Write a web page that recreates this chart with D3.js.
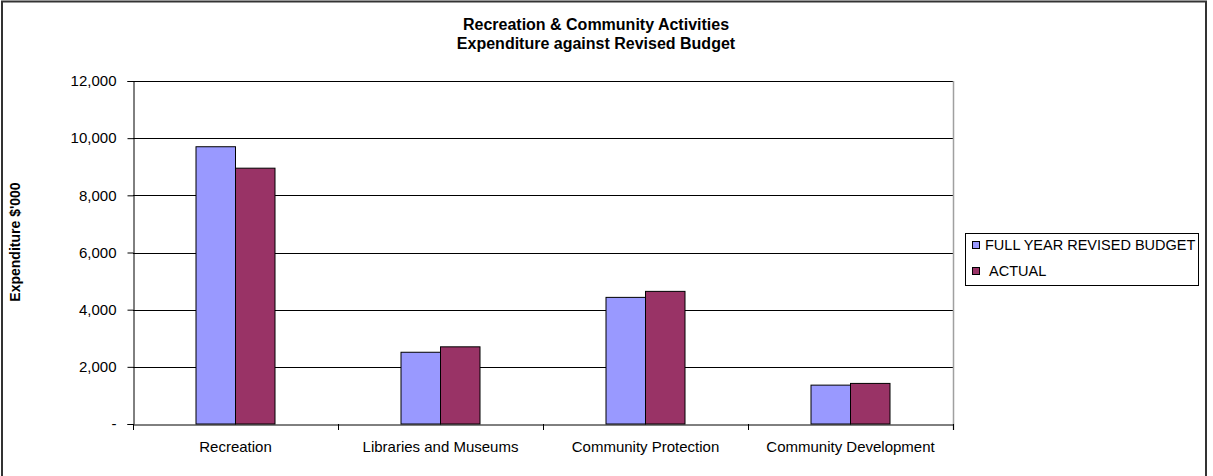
<!DOCTYPE html>
<html>
<head>
<meta charset="utf-8">
<script src="https://cdn.jsdelivr.net/npm/d3@7"></script>
<style>
  html, body { margin: 0; padding: 0; background: #fff; }
  svg { display: block; font-family: "Liberation Sans", Arial, sans-serif; }
</style>
</head>
<body>
<svg id="chart" width="1213" height="476"></svg>
<script>
const categories = ["Recreation", "Libraries and Museums", "Community Protection", "Community Development"];
const seriesNames = ["FULL YEAR REVISED BUDGET", "ACTUAL"];
const budgetValues = [9700, 2510, 4430, 1360];
const actualValues = [8950, 2700, 4640, 1420];
const yTicks = [0, 2000, 4000, 6000, 8000, 10000, 12000];
const titleLines = ["Recreation & Community Activities", "Expenditure against Revised Budget"];
const yTitle = "Expenditure $'000";
const colors = ["#9999FF", "#993366"];

const svg = d3.select("#chart");
const plot = { left: 133, right: 953, top: 81, bottom: 424 };

// outer border
svg.append("rect").attr("x", 2).attr("y", 1.5).attr("width", 1204).attr("height", 480)
  .attr("fill", "none").attr("stroke", "#333").attr("stroke-width", 2);

const x = d3.scaleBand().domain(categories).range([plot.left, plot.right]).paddingInner(0).paddingOuter(0);
const y = d3.scaleLinear().domain([0, 12000]).range([plot.bottom, plot.top]);

// gridlines
svg.append("g").selectAll("line").data(yTicks.filter(d => d > 0)).join("line")
  .attr("x1", plot.left).attr("x2", plot.right)
  .attr("y1", d => Math.round(y(d)) + 0.5).attr("y2", d => Math.round(y(d)) + 0.5)
  .attr("stroke", "#000").attr("stroke-width", 1);

// plot right border (gray)
svg.append("line").attr("x1", plot.right + 0.5).attr("x2", plot.right + 0.5)
  .attr("y1", plot.top).attr("y2", plot.bottom + 6).attr("stroke", "#a0a0a0").attr("stroke-width", 1.5);

// bars
const barW = 39.5;
const series = [budgetValues, actualValues];
series.forEach((vals, si) => {
  svg.append("g").selectAll("rect").data(categories).join("rect")
    .attr("x", (c) => x(c) + x.bandwidth() / 2 - barW + si * barW)
    .attr("y", (c, i) => y(vals[i]))
    .attr("width", barW)
    .attr("height", (c, i) => y(0) - y(vals[i]))
    .attr("fill", colors[si]).attr("stroke", "#000").attr("stroke-width", 1);
});

// y axis
const yAxis = d3.axisLeft(y).tickValues(yTicks).tickSize(6).tickPadding(11)
  .tickFormat(d => d === 0 ? "-" : d3.format(",")(d));
const gy = svg.append("g").attr("transform", `translate(${plot.left + 0.5},0)`).call(yAxis);
gy.select(".domain").attr("stroke", "#000");
gy.selectAll(".tick line").attr("stroke", "#000");
gy.selectAll(".tick text").attr("font-size", 15).attr("fill", "#000")
  .attr("font-family", "Liberation Sans, Arial, sans-serif");

// x axis
const xAxis = d3.axisBottom(x).tickSize(0).tickPadding(17);
const gx = svg.append("g").attr("transform", `translate(0,${plot.bottom + 0.5})`).call(xAxis);
gx.select(".domain").attr("stroke", "#000");
gx.selectAll(".tick text").attr("font-size", 15).attr("fill", "#000")
  .attr("font-family", "Liberation Sans, Arial, sans-serif");
// category separator ticks
svg.append("g").selectAll("line").data(categories.slice(1).concat(["__end"])).join("line")
  .attr("x1", (c, i) => Math.round(plot.left + (i + 1) * x.bandwidth()) + 0.5)
  .attr("x2", (c, i) => Math.round(plot.left + (i + 1) * x.bandwidth()) + 0.5)
  .attr("y1", plot.bottom).attr("y2", plot.bottom + 6).attr("stroke", "#000");
svg.append("line").attr("x1", plot.left + 0.5).attr("x2", plot.left + 0.5)
  .attr("y1", plot.bottom).attr("y2", plot.bottom + 6).attr("stroke", "#000");

// title
svg.append("g").selectAll("text").data(titleLines).join("text")
  .attr("x", 596).attr("y", (d, i) => 30 + i * 19)
  .attr("text-anchor", "middle").attr("font-size", 16).attr("font-weight", "bold")
  .text(d => d);

// y title
svg.append("text")
  .attr("transform", `translate(20,242) rotate(-90)`)
  .attr("text-anchor", "middle").attr("font-size", 14).attr("font-weight", "bold")
  .text(yTitle);

// legend
const lg = svg.append("g");
lg.append("rect").attr("x", 965.5).attr("y", 233.5).attr("width", 233).attr("height", 52)
  .attr("fill", "#fff").attr("stroke", "#000");
seriesNames.forEach((name, i) => {
  lg.append("rect").attr("x", 972.5).attr("y", 241.5 + i * 26).attr("width", 7).attr("height", 7)
    .attr("fill", colors[i]).attr("stroke", "#000");
  lg.append("text").attr("x", i === 0 ? 985 : 989).attr("y", 249.5 + i * 26)
    .attr("font-size", 14.5).text(name);
});
</script>
</body>
</html>
